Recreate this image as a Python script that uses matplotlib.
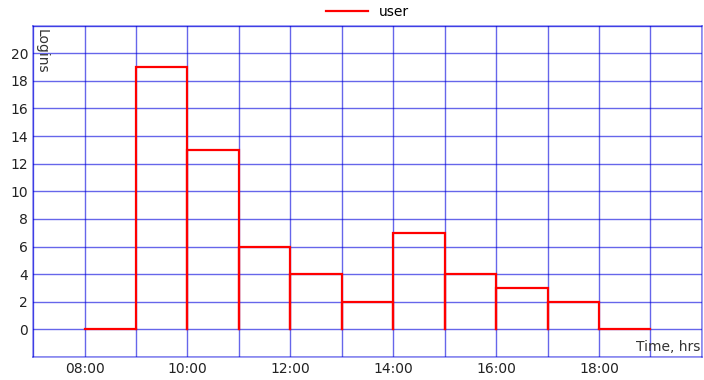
import numpy as np
import matplotlib.pyplot as plt

hours = [8, 9, 10, 11, 12, 13, 14, 15, 16, 17, 18]
logins = [0, 19, 13, 6, 4, 2, 7, 4, 3, 2, 0]
tick_hours = [8, 10, 12, 14, 16, 18]
tick_labels = ["08:00", "10:00", "12:00", "14:00", "16:00", "18:00"]

fig = plt.figure(figsize=(7.04, 3.8), dpi=100)
ax = fig.add_axes([0.047, 0.0605, 0.950, 0.872])

# each hour drawn as an open box standing on zero
first = True
for h, v in zip(hours, logins):
    xs = [h, h, h + 1, h + 1]
    ys = [0, v, v, 0]
    ax.plot(xs, ys, color="red", lw=1.6, label="user" if first else None,
            solid_joinstyle="miter", zorder=3)
    first = False

ax.set_xlim(7, 20)
ax.set_ylim(-2, 22)
ax.set_xticks(tick_hours)
ax.set_xticklabels(tick_labels)
ax.set_xticks(np.arange(7, 21, 1), minor=True)
ax.set_yticks(np.arange(0, 21, 2))
ax.set_yticks([-2, 22], minor=True)
ax.tick_params(which="both", length=0, labelsize=10, colors="#222222")
ax.grid(True, which="both", color="#0000dd", alpha=0.6, lw=1)
for s in ax.spines.values():
    s.set_color("#0000dd")
    s.set_alpha(0.45)
    s.set_linewidth(1.2)

ax.text(0.003, 0.99, "Logins", transform=ax.transAxes, rotation=270,
        ha="left", va="top", fontsize=10, color="#333333")
ax.text(0.998, 0.01, "Time, hrs", transform=ax.transAxes,
        ha="right", va="bottom", fontsize=10, color="#333333")

ax.legend(loc="lower center", bbox_to_anchor=(0.5, 1.0), frameon=False,
          fontsize=10, handlelength=3, borderaxespad=0.1)

fig.savefig("out.png", dpi=100)
